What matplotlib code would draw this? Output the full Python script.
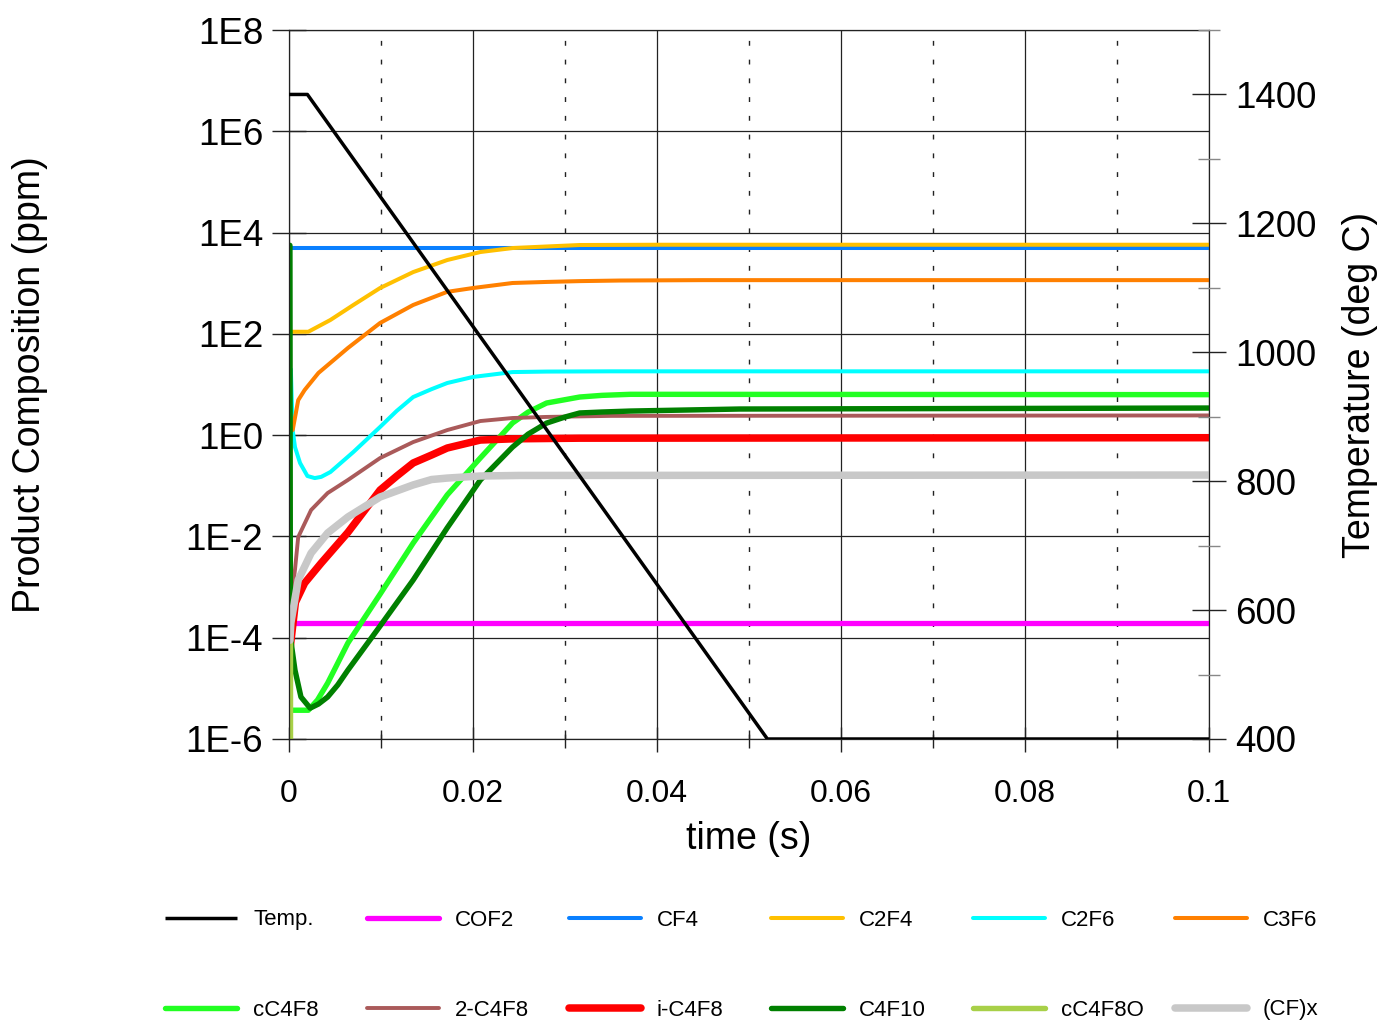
import numpy as np
import matplotlib
matplotlib.use("Agg")
import matplotlib.pyplot as plt
from matplotlib.ticker import FixedLocator, FuncFormatter, NullLocator

plt.rcParams['font.family'] = ['Liberation Sans', 'DejaVu Sans']

# ---- data (time in s, composition in ppm, temperature in deg C) ----
temp_t = [0.0, 0.002, 0.052, 0.1]
temp_v = [1400, 1400, 400, 400]

cof2_t = [0.0, 0.1]
cof2_v = [1.95e-4, 1.95e-4]

cf4_t = [0.0001, 0.1]
cf4_v = [4.95e3, 4.95e3]

c2f4_t = [0.0001, 0.0021, 0.0045, 0.007, 0.0099, 0.0135, 0.0172, 0.0208, 0.0243, 0.028, 0.0316, 0.04, 0.1]
c2f4_v = [110, 110, 188, 372, 804, 1660, 2870, 4130, 4950, 5310, 5680, 5750, 5750]

c2f6_t = [0.0002, 0.0004, 0.00065, 0.0012, 0.002, 0.0028, 0.0035, 0.0045, 0.007, 0.0099, 0.0117,
          0.0135, 0.0155, 0.0172, 0.02, 0.0243, 0.028, 0.035, 0.1]
c2f6_v = [20, 1.26, 0.58, 0.282, 0.156, 0.142, 0.15, 0.187, 0.465, 1.45, 3.0,
          5.66, 8.1, 10.7, 14.1, 17.6, 18.0, 18.2, 18.2]

c3f6_t = [0.0004, 0.001, 0.0017, 0.0032, 0.0064, 0.0099, 0.0135, 0.0172, 0.02, 0.0243, 0.028, 0.0316,
          0.036, 0.045, 0.1]
c3f6_v = [1.26, 4.9, 7.78, 16.9, 52.5, 164, 372, 676, 804, 1010, 1060, 1100,
          1130, 1150, 1150]

cc4f8_t = [0.0002, 0.0021, 0.0031, 0.0042, 0.0052, 0.0064, 0.0099, 0.0135, 0.0172, 0.0208, 0.0243, 0.026,
           0.028, 0.0316, 0.034, 0.0371, 0.1]
cc4f8_v = [3.7e-6, 3.7e-6, 5.9e-6, 1.27e-5, 2.9e-5, 7.85e-5, 7.24e-4, 7.41e-3, 6.61e-2, 0.355, 1.74, 2.86,
           4.31, 5.66, 6.1, 6.4, 6.3]

c4f8_2_t = [0.0001, 0.0002, 0.00065, 0.001, 0.0024, 0.0042, 0.0064, 0.0099, 0.0135, 0.0172, 0.0208, 0.0243,
            0.028, 0.035, 0.1]
c4f8_2_v = [1e-4, 4.8e-4, 2.2e-3, 9.7e-3, 3.32e-2, 7.19e-2, 0.13, 0.353, 0.731, 1.26, 1.9, 2.18,
            2.29, 2.4, 2.45]

ic4f8_t = [0.0001, 0.0007, 0.0017, 0.0035, 0.0064, 0.0099, 0.0117, 0.0135, 0.0155, 0.0172, 0.019, 0.0208,
           0.0243, 0.0316, 0.1]
ic4f8_v = [5.75e-5, 5.0e-4, 1.2e-3, 2.98e-3, 1.2e-2, 8.24e-2, 0.155, 0.282, 0.405, 0.557, 0.668, 0.80,
           0.845, 0.871, 0.89]

c4f10_t = [0.0001, 0.00015, 0.00065, 0.0013, 0.0023, 0.0032, 0.0042, 0.0053, 0.0064, 0.0099, 0.0135,
           0.0172, 0.0208, 0.0243, 0.026, 0.028, 0.030, 0.0316, 0.034, 0.0371, 0.049, 0.1]
c4f10_v = [5.6e3, 1.02e-4, 2.29e-5, 6.76e-6, 4.07e-6, 4.9e-6, 6.76e-6, 1.17e-5, 2.29e-5, 1.7e-4, 1.38e-3,
           1.48e-2, 0.13, 0.582, 1.05, 1.73, 2.28, 2.74, 2.86, 2.99, 3.28, 3.43]

cc4f8o_t = [0.0001, 0.0001, 0.1]
cc4f8o_v = [8.9e-5, 1e-9, 1e-9]

cfx_t = [0.0001, 0.0002, 0.001, 0.0024, 0.0042, 0.0064, 0.0099, 0.0117, 0.0135, 0.0155, 0.0172, 0.0208,
         0.025, 0.1]
cfx_v = [8.9e-5, 1.95e-4, 1.38e-3, 4.68e-3, 1.17e-2, 2.42e-2, 0.06, 0.079, 0.104, 0.133, 0.142, 0.156,
         0.16, 0.163]

# label, t, v, colour, width(pt)
species = [
    ("COF2", cof2_t, cof2_v, "#FF00FF", 3.8),
    ("CF4", cf4_t, cf4_v, "#0A80FF", 2.9),
    ("C2F4", c2f4_t, c2f4_v, "#FFC000", 2.9),
    ("C2F6", c2f6_t, c2f6_v, "#00FFFF", 2.9),
    ("C3F6", c3f6_t, c3f6_v, "#FF8000", 2.9),
    ("cC4F8", cc4f8_t, cc4f8_v, "#22FF22", 3.9),
    ("2-C4F8", c4f8_2_t, c4f8_2_v, "#AA5A5A", 2.8),
    ("i-C4F8", ic4f8_t, ic4f8_v, "#FF0000", 5.4),
    ("C4F10", c4f10_t, c4f10_v, "#008000", 3.9),
    ("cC4F8O", cc4f8o_t, cc4f8o_v, "#A8D048", 3.9),
    ("(CF)x", cfx_t, cfx_v, "#C8C8C8", 5.4),
]

fig = plt.figure(figsize=(13.87, 10.23), dpi=100)
ax = fig.add_axes([289 / 1387, 1 - 739 / 1023, 920 / 1387, 709 / 1023])
ax2 = ax.twinx()

handles = []
for name, t, v, col, lw in species:
    h, = ax.plot(t, v, color=col, lw=lw, solid_capstyle='round', solid_joinstyle='round', label=name)
    handles.append(h)

ht, = ax2.plot(temp_t, temp_v, color="black", lw=2.5, solid_capstyle='butt', label="Temp.")
handles.insert(0, ht)

# left axis (log)
ax.set_yscale('log')
ax.set_xlim(0, 0.1)
ax.set_ylim(1e-6, 1e8)
ax.yaxis.set_major_locator(FixedLocator(10.0 ** np.arange(-6, 9, 2)))
ax.yaxis.set_minor_locator(NullLocator())
ax.yaxis.set_major_formatter(FuncFormatter(lambda v, p: "1E%d" % int(round(np.log10(v)))))
ax.xaxis.set_major_locator(FixedLocator([0, 0.02, 0.04, 0.06, 0.08, 0.1]))
ax.xaxis.set_minor_locator(FixedLocator([0.01, 0.03, 0.05, 0.07, 0.09]))
ax.xaxis.set_major_formatter(FuncFormatter(lambda v, p: "0" if v == 0 else ("%g" % v)))

ax.tick_params(axis='y', which='major', direction='inout', length=24, width=1,
               labelsize=26.5, pad=6.5, color='#222222')
ax.tick_params(axis='x', which='major', direction='inout', length=18, width=1,
               labelsize=23, pad=20, color='#222222')
ax.tick_params(axis='x', which='minor', direction='inout', length=13, width=1, color='#222222')

ax.set_axisbelow(True)
ax.grid(True, which='major', axis='both', color='#222222', lw=0.9)
ax.grid(True, which='minor', axis='x', color='#222222', lw=1.0, dashes=(3.5, 10))
for s in ax.spines.values():
    s.set_linewidth(0.9)
    s.set_color('#222222')

# right axis (temperature)
ax2.set_ylim(400, 1500)
ax2.yaxis.set_major_locator(FixedLocator([400, 600, 800, 1000, 1200, 1400]))
ax2.yaxis.set_minor_locator(FixedLocator([500, 700, 900, 1100, 1300, 1500]))
ax2.tick_params(axis='y', which='major', direction='inout', length=24, width=1,
                labelsize=26.5, pad=7, color='#222222')
ax2.tick_params(axis='y', which='minor', direction='inout', length=16.5, width=1, color='#888888')
for s in ax2.spines.values():
    s.set_visible(False)

ax.set_xlabel("time (s)", fontsize=27)
ax.xaxis.set_label_coords(0.5, -0.115)
ax.set_ylabel("Product Composition (ppm)", fontsize=27)
ax.yaxis.set_label_coords(-0.262, 0.5)
ax2.set_ylabel("Temperature (deg C)", fontsize=27, rotation=90)
ax2.yaxis.set_label_coords(1.1446, 0.5)

# legend: two rows of six, laid out on a fixed grid
x0, dx = 165 / 1387, 202 / 1387
rows_y = [1 - 920 / 1023, 1 - 1010 / 1023]
for i, h in enumerate(handles):
    r, c = divmod(i, 6)
    fig.legend(handles=[h], loc='center left', bbox_to_anchor=(x0 + c * dx, rows_y[r]),
               frameon=False, fontsize=16, handlelength=3.24, handletextpad=0.72,
               borderpad=0, borderaxespad=0)

fig.savefig("out.png", dpi=100)
